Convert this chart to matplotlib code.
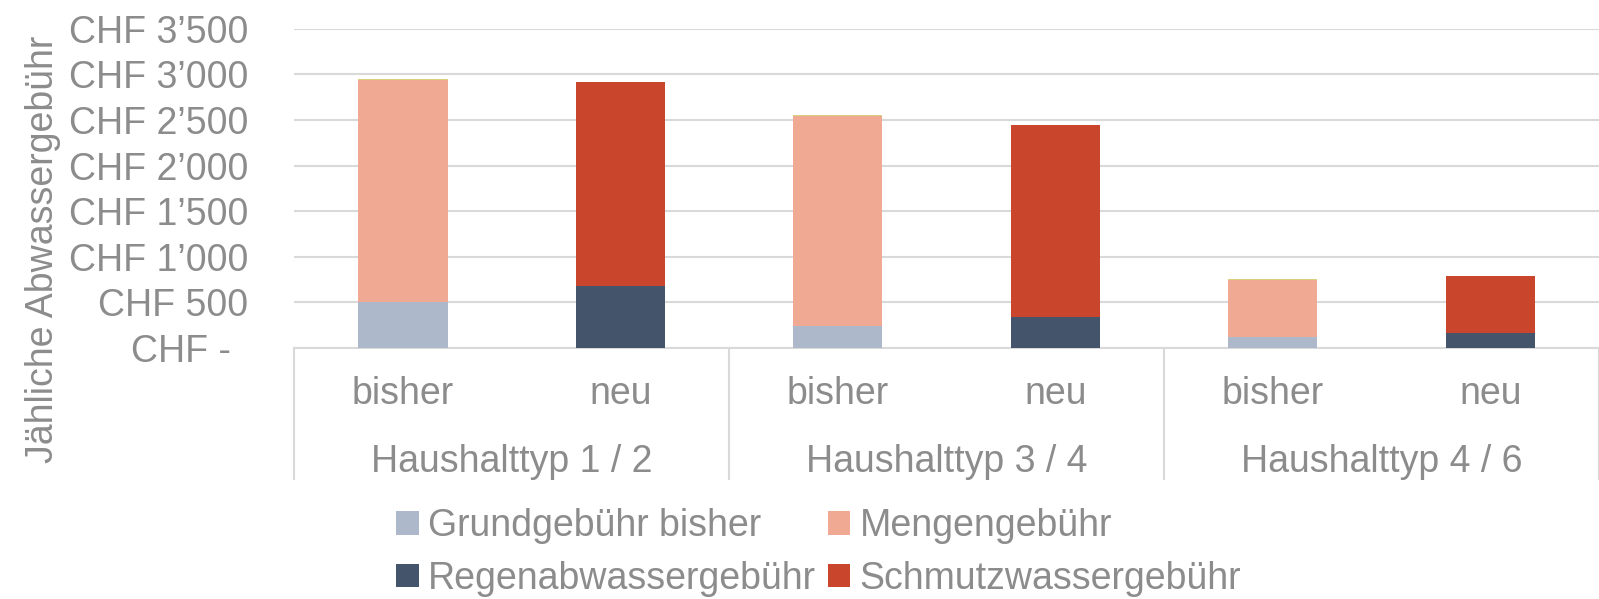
import matplotlib.pyplot as plt

plt.rcParams['font.family'] = ['Liberation Sans', 'DejaVu Sans']

# data
gruppen = ["Haushalttyp 1 / 2", "Haushalttyp 3 / 4", "Haushalttyp 4 / 6"]
varianten = ["bisher", "neu"]
grundgebuehr = [500, 0, 245, 0, 120, 0]
mengengebuehr = [2440, 0, 2300, 0, 625, 0]
rest = [12, 0, 10, 0, 8, 0]
regenabwasser = [0, 680, 0, 335, 0, 170]
schmutzwasser = [0, 2240, 0, 2105, 0, 615]
yticks = [0, 500, 1000, 1500, 2000, 2500, 3000, 3500]
ytick_labels = ["CHF - \u2009", "CHF 500", "CHF 1\u2019000", "CHF 1\u2019500", "CHF 2\u2019000",
                "CHF 2\u2019500", "CHF 3\u2019000", "CHF 3\u2019500"]

grau = "#8c8c8c"
linie = "#d9d9d9"
fs = 27

fig = plt.figure(figsize=(15.99, 5.99), dpi=100)
ax = fig.add_axes([0.184, 0.419, 0.816, 0.533])

x = list(range(6))
w = 0.41
ax.bar(x, grundgebuehr, w, color="#adb9ca", label="Grundgebühr bisher", zorder=3)
ax.bar(x, mengengebuehr, w, bottom=grundgebuehr, color="#f0aa94", label="Mengengebühr", zorder=3)
b2 = [g + m for g, m in zip(grundgebuehr, mengengebuehr)]
ax.bar(x, rest, w, bottom=b2, color="#d8d07a", zorder=3)
ax.bar(x, regenabwasser, w, color="#44546a", label="Regenabwassergebühr", zorder=3)
ax.bar(x, schmutzwasser, w, bottom=regenabwasser, color="#c9452b", label="Schmutzwassergebühr", zorder=3)

ax.set_xlim(-0.5, 5.5)
ax.set_ylim(0, 3500)
ax.set_yticks(yticks)
ax.set_yticklabels(ytick_labels)
ax.yaxis.grid(True, color=linie, linewidth=1.5, zorder=0)
ax.tick_params(axis='y', length=0, pad=33, labelsize=fs, labelcolor=grau)
ax.set_xticks([])
for s in ["top", "right", "left"]:
    ax.spines[s].set_visible(False)
ax.spines["bottom"].set_color(linie)
ax.spines["bottom"].set_linewidth(1.5)

tr = ax.get_xaxis_transform()
for i in x:
    ax.text(i, -0.145, varianten[i % 2], transform=tr, ha="center", va="center",
            fontsize=fs, color=grau)
for j, g in enumerate(gruppen):
    ax.text(2 * j + 0.5, -0.358, g, transform=tr, ha="center", va="center",
            fontsize=fs, color=grau)
for xs in [-0.5, 1.5, 3.5, 5.5]:
    ax.plot([xs, xs], [0, -0.41], transform=tr, color=linie, linewidth=1.5, clip_on=False)

fig.text(0.027, 0.583, "Jähliche Abwassergebühr", rotation=90, ha="center", va="center",
         fontsize=fs, color=grau)

handles, labels = ax.get_legend_handles_labels()
order = [0, 2, 1, 3]
leg = fig.legend([handles[i] for i in order], [labels[i] for i in order],
                 loc="center", bbox_to_anchor=(0.512, 0.078), ncol=2, frameon=False,
                 fontsize=fs, handlelength=0.6, handleheight=0.6, handletextpad=0.25,
                 columnspacing=0.3, labelspacing=0.45, borderpad=0)
for t in leg.get_texts():
    t.set_color(grau)

fig.savefig("out.png", dpi=100)
